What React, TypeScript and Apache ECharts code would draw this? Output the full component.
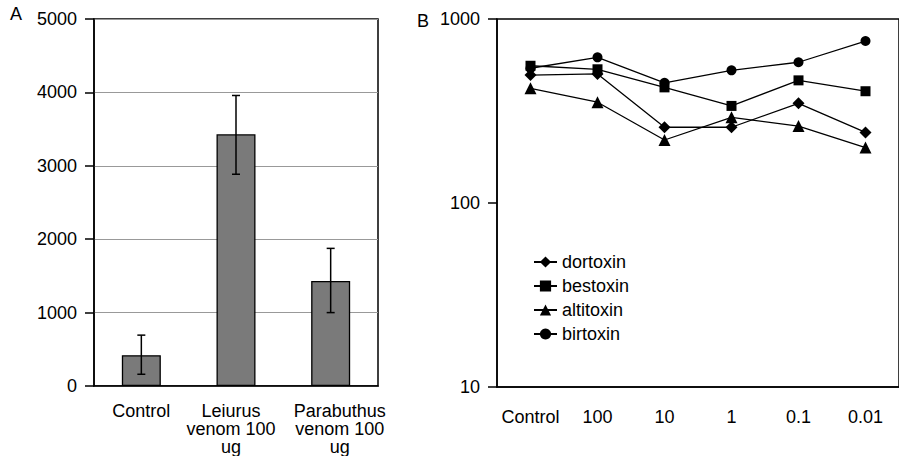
import React, { useEffect, useRef } from "react";
import * as echarts from "echarts";

const barCategories = ["Control", "Leiurus\nvenom 100\nug", "Parabuthus\nvenom 100\nug"];
const barValues = [420, 3430, 1430];
const errLow = [160, 2885, 1000];
const errHigh = [693, 3958, 1875];
const barTicks = [0, 1000, 2000, 3000, 4000, 5000];

const doseCategories = ["Control", "100", "10", "1", "0.1", "0.01"];
const dortoxin = [496, 503, 258, 258, 348, 242];
const bestoxin = [557, 533, 425, 337, 464, 405];
const altitoxin = [420, 353, 220, 292, 262, 200];
const birtoxin = [540, 619, 450, 526, 582, 759];

const FONT = "Liberation Sans, Arial, sans-serif";
const FS = 18;

// horizontal label offsets (Excel nudges crowded labels apart)
const barLabelPadding = [
  [0, 0, 0, 0],
  [0, 10, 0, 0],
  [0, 0, 0, 18],
];

export default function App() {
  const ref = useRef<HTMLDivElement>(null);
  useEffect(() => {
    if (!ref.current) return;
    const chart = echarts.init(ref.current, null, { renderer: "svg" });
    const lineSeries = (name: string, data: number[], symbol: string, size: number) => ({
      name,
      type: "line",
      xAxisIndex: 1,
      yAxisIndex: 1,
      data,
      symbol,
      symbolSize: size,
      lineStyle: { color: "#000", width: 1.3 },
      itemStyle: { color: "#000" },
      emphasis: { disabled: true },
    });
    chart.setOption({
      animation: false,
      textStyle: { fontFamily: FONT },
      graphic: [
        { type: "text", left: 10, top: 5, style: { text: "A", font: `${FS}px ${FONT}`, fill: "#000" } },
        { type: "text", left: 417, top: 12, style: { text: "B", font: `${FS}px ${FONT}`, fill: "#000" } },
      ],
      legend: {
        left: 528,
        top: 248,
        padding: 5,
        orient: "vertical",
        itemWidth: 23,
        itemHeight: 14,
        itemGap: 6,
        textStyle: { fontFamily: FONT, fontSize: FS, color: "#000" },
        data: ["dortoxin", "bestoxin", "altitoxin", "birtoxin"],
      },
      grid: [
        { left: 94, top: 19, width: 284, height: 368, show: true, borderColor: "#000", borderWidth: 1.5, backgroundColor: "transparent" },
        { left: 497, top: 19, width: 412, height: 368, show: true, borderColor: "#000", borderWidth: 1.5, backgroundColor: "transparent" },
      ],
      xAxis: [
        {
          type: "category",
          gridIndex: 0,
          data: barCategories.map((c, i) => ({ value: c, textStyle: { padding: barLabelPadding[i] } })),
          axisLine: { lineStyle: { color: "#000", width: 1.5 } },
          axisTick: { length: 6, lineStyle: { color: "#000", width: 1.5 } },
          axisLabel: { color: "#000", fontSize: FS, fontFamily: FONT, lineHeight: 18, margin: 16, interval: 0 },
        },
        {
          type: "category",
          gridIndex: 1,
          data: doseCategories,
          axisLine: { lineStyle: { color: "#000", width: 1.5 } },
          axisTick: { length: 7, lineStyle: { color: "#000", width: 1.5 } },
          axisLabel: { color: "#000", fontSize: FS, fontFamily: FONT, lineHeight: 18, margin: 21, interval: 0 },
        },
      ],
      yAxis: [
        {
          type: "value",
          gridIndex: 0,
          min: barTicks[0],
          max: barTicks[barTicks.length - 1],
          interval: 1000,
          axisLine: { show: true, lineStyle: { color: "#000", width: 1.5 } },
          axisTick: { show: true, length: 9, lineStyle: { color: "#000", width: 1.5 } },
          axisLabel: { color: "#000", fontSize: FS, fontFamily: FONT, margin: 17, formatter: (v: number) => String(v) },
          splitLine: { show: true, lineStyle: { color: "#999", width: 1 } },
        },
        {
          type: "log",
          gridIndex: 1,
          min: 10,
          max: 1000,
          logBase: 10,
          axisLine: { show: true, lineStyle: { color: "#000", width: 1.5 } },
          axisTick: { show: true, length: 9, lineStyle: { color: "#000", width: 1.5 } },
          axisLabel: {
            color: "#000",
            fontSize: FS,
            fontFamily: FONT,
            margin: 17,
            formatter: (v: number) => String(Math.round(v)),
          },
          splitLine: { show: false },
          minorTick: { show: false },
        },
      ],
      series: [
        {
          type: "bar",
          xAxisIndex: 0,
          yAxisIndex: 0,
          data: barValues,
          barWidth: 39,
          itemStyle: { color: "#7a7a7a", borderColor: "#000", borderWidth: 1.3 },
          emphasis: { disabled: true },
        },
        {
          type: "custom",
          xAxisIndex: 0,
          yAxisIndex: 0,
          data: barValues.map((_, i) => [i, errLow[i], errHigh[i]]),
          renderItem: (params: any, api: any) => {
            const lo = api.coord([api.value(0), api.value(1)]);
            const hi = api.coord([api.value(0), api.value(2)]);
            const x = lo[0];
            const cw = 4;
            const st = { stroke: "#000", lineWidth: 1.5 };
            return {
              type: "group",
              children: [
                { type: "line", shape: { x1: x, y1: lo[1], x2: x, y2: hi[1] }, style: st },
                { type: "line", shape: { x1: x - cw, y1: lo[1], x2: x + cw, y2: lo[1] }, style: st },
                { type: "line", shape: { x1: x - cw, y1: hi[1], x2: x + cw, y2: hi[1] }, style: st },
              ],
            };
          },
          z: 5,
        },
        lineSeries("birtoxin", birtoxin, "circle", 10),
        lineSeries("dortoxin", dortoxin, "diamond", 12),
        lineSeries("altitoxin", altitoxin, "triangle", 12),
        lineSeries("bestoxin", bestoxin, "rect", 10),
      ],
    });
    return () => chart.dispose();
  }, []);
  return <div ref={ref} style={{ position: "absolute", left: 0, top: 0, width: 899, height: 456 }} />;
}
